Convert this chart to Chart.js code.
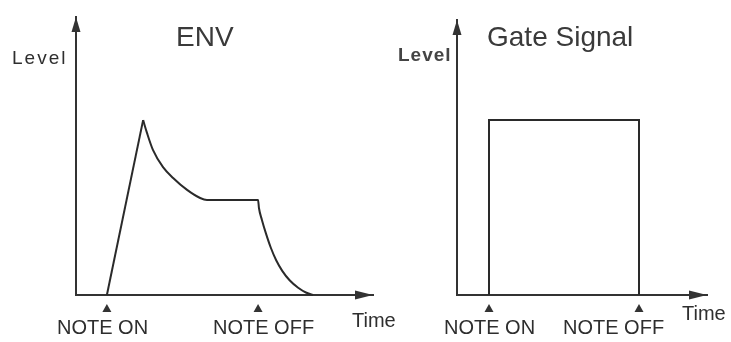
<!DOCTYPE html>
<html>
<head>
<meta charset="utf-8">
<script src="https://cdn.jsdelivr.net/npm/chart.js@4"></script>
<style>
    body { margin: 0; background: #fff; }
    #wrap { position: relative; width: 731px; height: 342px; overflow: hidden; background: #fff; font-family: "Liberation Sans", Arial, sans-serif; color: #2e2e2e; }
    canvas { position: absolute; top: 0; }
    #envCanvas { left: 0; }
    #gateCanvas { left: 380px; }
    .txt { position: absolute; line-height: 1; white-space: nowrap; }
</style>
</head>
<body>
<div id="wrap">
    <canvas id="envCanvas" width="380" height="342"></canvas>
    <canvas id="gateCanvas" width="351" height="342"></canvas>

    <div class="txt" style="left:176px; top:23px; font-size:28px; color:#3a3a3a;">ENV</div>
    <div class="txt" style="left:487px; top:23px; font-size:28px; color:#3a3a3a;">Gate Signal</div>
    <div class="txt" style="left:12px; top:48px; font-size:19px; letter-spacing:2px;">Level</div>
    <div class="txt" style="left:398px; top:45px; font-size:19px; font-weight:bold; letter-spacing:1px; color:#444;">Level</div>
    <div class="txt" style="left:352px; top:310px; font-size:20px;">Time</div>
    <div class="txt" style="left:682px; top:303px; font-size:20px;">Time</div>

    <div class="txt" id="envOn" style="left:57px; top:317px; font-size:20px;"></div>
    <div class="txt" id="envOff" style="left:213px; top:317px; font-size:20px;"></div>
    <div class="txt" id="gateOn" style="left:444px; top:317px; font-size:20px;"></div>
    <div class="txt" id="gateOff" style="left:563px; top:317px; font-size:20px;"></div>
</div>

<script>
// marker labels under the time axis
const markLabels = ['NOTE ON', 'NOTE OFF'];

// ENV curve (time 0-100 across the axis, level 0-100 up to the arrow)
// attack is a straight line, decay/sustain/release are curved
const attackTime  = [10.4, 22.6];
const attackLevel = [0, 62.9];
const envTime  = [22.6, 23.9, 25.9, 29.3, 32.7, 37.4, 41.8, 44.1, 61.3, 61.6, 62.6, 64.0, 65.6, 67.4, 69.5, 72.0, 74.8, 77.4, 79.8];
const envLevel = [62.9, 58.3, 52.2, 46.0, 42.1, 37.8, 34.9, 34.2, 34.2, 31.3, 27.0, 22.0, 17.0, 12.5, 8.6, 5.2, 2.6, 0.9, 0];
const envMarks = [10.4, 61.3];

// gate signal
const gateTime  = [12.8, 12.8, 72.8, 72.8];
const gateLevel = [0, 63.6, 63.6, 0];
const gateMarks = [12.8, 72.8];

const lineColor = '#2a2a2a';

// arrow heads at the end of both axes + NOTE ON/OFF triangles
const axisPlugin = {
    id: 'axisDeco',
    afterDraw(chart) {
        const ctx = chart.ctx;
        const a = chart.chartArea;
        ctx.save();
        ctx.fillStyle = '#333';
        // y axis
        ctx.beginPath();
        ctx.moveTo(a.left, a.top);
        ctx.lineTo(a.left - 4.5, a.top + 15);
        ctx.lineTo(a.left + 4.5, a.top + 15);
        ctx.closePath();
        ctx.fill();
        // x axis
        ctx.beginPath();
        ctx.moveTo(a.right, a.bottom);
        ctx.lineTo(a.right - 18, a.bottom - 4.5);
        ctx.lineTo(a.right - 18, a.bottom + 4.5);
        ctx.closePath();
        ctx.fill();
        // markers
        const marks = chart.options.plugins.axisDeco.marks;
        marks.forEach(m => {
            const x = chart.scales.x.getPixelForValue(m);
            ctx.beginPath();
            ctx.moveTo(x, a.bottom + 9);
            ctx.lineTo(x - 4.5, a.bottom + 17);
            ctx.lineTo(x + 4.5, a.bottom + 17);
            ctx.closePath();
            ctx.fill();
        });
        ctx.restore();
    }
};

function toPoints(xs, ys) {
    return xs.map((x, i) => ({ x: x, y: ys[i] }));
}

function lineSet(xs, ys, smooth) {
    return {
        data: toPoints(xs, ys),
        showLine: true,
        borderColor: lineColor,
        borderWidth: 2,
        pointRadius: 0,
        tension: 0,
        cubicInterpolationMode: smooth ? 'monotone' : 'default',
        clip: false
    };
}

function makeChart(id, datasets, marks, pad) {
    const ctx = document.getElementById(id).getContext('2d');
    return new Chart(ctx, {
        type: 'scatter',
        data: { datasets: datasets },
        options: {
            responsive: false,
            animation: false,
            layout: { padding: pad },
            plugins: {
                legend: { display: false },
                tooltip: { enabled: false },
                axisDeco: { marks: marks }
            },
            scales: {
                x: {
                    type: 'linear',
                    min: 0,
                    max: 100,
                    grid: { display: false, drawTicks: false },
                    ticks: { display: false },
                    border: { display: true, color: '#333', width: 2 },
                    afterFit: s => { s.height = 0; }
                },
                y: {
                    type: 'linear',
                    min: 0,
                    max: 100,
                    grid: { display: false, drawTicks: false },
                    ticks: { display: false },
                    border: { display: true, color: '#333', width: 2 },
                    afterFit: s => { s.width = 0; }
                }
            }
        },
        plugins: [axisPlugin]
    });
}

makeChart('envCanvas',
    [lineSet(attackTime, attackLevel, false), lineSet(envTime, envLevel, true)],
    envMarks, { left: 76, top: 17, right: 7, bottom: 47 });

makeChart('gateCanvas',
    [lineSet(gateTime, gateLevel, false)],
    gateMarks, { left: 77, top: 20, right: 24, bottom: 47 });

document.getElementById('envOn').textContent = markLabels[0];
document.getElementById('envOff').textContent = markLabels[1];
document.getElementById('gateOn').textContent = markLabels[0];
document.getElementById('gateOff').textContent = markLabels[1];
</script>
</body>
</html>
